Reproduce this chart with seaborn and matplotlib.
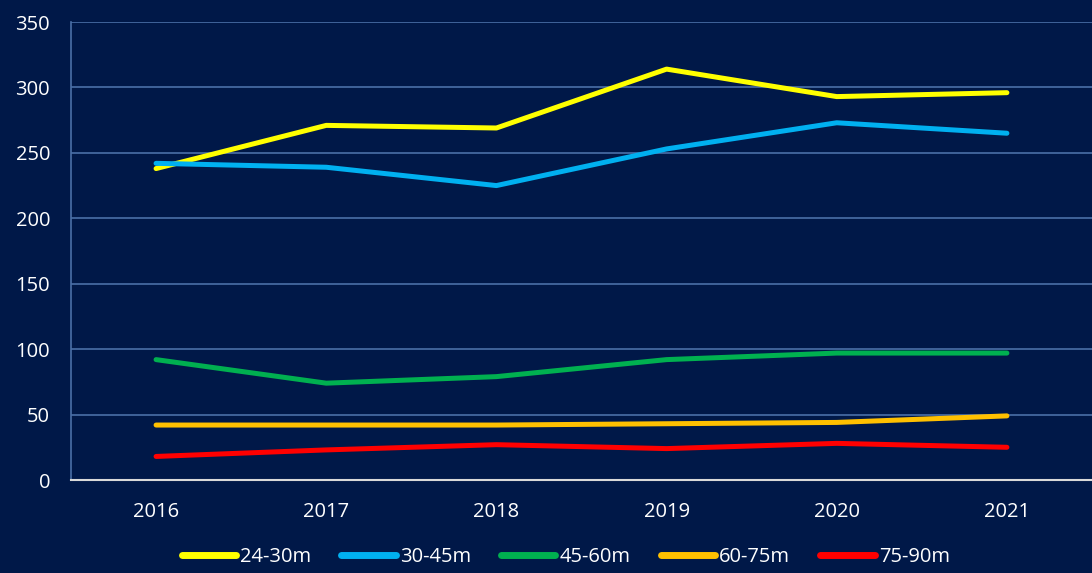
import matplotlib
matplotlib.use("Agg")
import matplotlib.pyplot as plt
import seaborn as sns
import pandas as pd

years = ["2016", "2017", "2018", "2019", "2020", "2021"]
s_24_30 = [238, 271, 269, 314, 293, 296]
s_30_45 = [242, 239, 225, 253, 273, 265]
s_45_60 = [92, 74, 79, 92, 97, 97]
s_60_75 = [42, 42, 42, 43, 44, 49]
s_75_90 = [18, 23, 27, 24, 28, 25]
series_names = ["24-30m", "30-45m", "45-60m", "60-75m", "75-90m"]
colors = ["#FFFF00", "#00B0F0", "#00B050", "#FFC000", "#FF0000"]

rows = []
for name, vals in zip(series_names, [s_24_30, s_30_45, s_45_60, s_60_75, s_75_90]):
    for y, v in zip(years, vals):
        rows.append({"year": y, "value": v, "series": name})
df = pd.DataFrame(rows)

bg = "#001848"
grid = "#4A6FA8"
sns.set_theme(style="white")
plt.rcParams["font.family"] = ["Open Sans", "DejaVu Sans"]

fig = plt.figure(figsize=(10.92, 5.73), dpi=100, facecolor=bg)
ax = fig.add_axes([0.065, 0.1623, 0.935, 0.7993])
ax.set_facecolor(bg)

sns.lineplot(data=df, x="year", y="value", hue="series", palette=colors,
             hue_order=series_names, linewidth=3.6, ax=ax, legend=True,
             solid_capstyle="round", sort=False)

ax.set_xlim(-0.5, 5.5)
ax.set_ylim(0, 350)
ax.set_yticks(range(0, 351, 50))
ax.yaxis.grid(True, color=grid, linewidth=1.2)
ax.set_axisbelow(True)
for s in ["top", "right"]:
    ax.spines[s].set_visible(False)
ax.spines["left"].set_color(grid)
ax.spines["left"].set_linewidth(1.2)
ax.spines["bottom"].set_color("#D9D9D9")
ax.spines["bottom"].set_linewidth(1.5)
ax.tick_params(axis="both", colors="white", labelsize=14.5, length=0)
ax.tick_params(axis="y", pad=15)
ax.tick_params(axis="x", pad=16)
ax.set_xlabel("")
ax.set_ylabel("")

handles, labels = ax.get_legend_handles_labels()
ax.get_legend().remove()
for h in handles:
    h.set_linewidth(5)
    h.set_solid_capstyle("round")
leg = fig.legend(handles, labels, loc="lower center", bbox_to_anchor=(0.518, -0.022),
                 ncol=5, frameon=False, fontsize=14.5, handlelength=2.7,
                 handletextpad=0.2, columnspacing=1.5)
for t in leg.get_texts():
    t.set_color("white")

fig.savefig("out.png", dpi=100, facecolor=bg)
